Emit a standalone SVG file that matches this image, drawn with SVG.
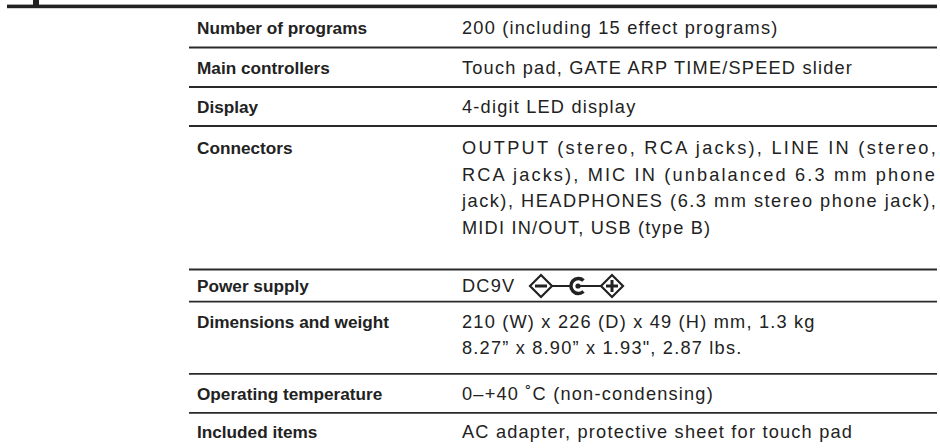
<svg xmlns="http://www.w3.org/2000/svg" width="940" height="448" viewBox="0 0 940 448">
<style>
.lbl{font-family:"Liberation Sans",Arial,sans-serif;font-weight:bold;font-size:17.2px;fill:#222}
.val{font-family:"Liberation Sans",Arial,sans-serif;font-size:18.2px;letter-spacing:1.2px;fill:#222}
.rule{stroke:#2a2a2a;stroke-width:1.8}
.sym{fill:none;stroke:#222;stroke-width:2.2}
</style>
<rect width="940" height="448" fill="#fff"/>
<g id="header">
<rect x="33" y="0" width="6" height="5" fill="#222"/>
<rect x="7" y="4.6" width="930" height="3.6" fill="#222"/>
</g>
<g id="rules">
<line class="rule" x1="189" y1="47.5" x2="937" y2="47.5"/>
<line class="rule" x1="189" y1="87" x2="937" y2="87"/>
<line class="rule" x1="189" y1="126" x2="937" y2="126"/>
<line class="rule" x1="189" y1="269.5" x2="937" y2="269.5"/>
<line class="rule" x1="189" y1="301.7" x2="937" y2="301.7"/>
<line class="rule" x1="189" y1="373.8" x2="937" y2="373.8"/>
<line class="rule" x1="189" y1="412.8" x2="937" y2="412.8"/>
</g>
<g id="row-programs">
<text class="lbl" x="197" y="34">Number of programs</text>
<text class="val" x="462" y="34">200 (including 15 effect programs)</text>
</g>
<g id="row-controllers">
<text class="lbl" x="197" y="73.5">Main controllers</text>
<text class="val" x="462" y="73.5">Touch pad, GATE ARP TIME/SPEED slider</text>
</g>
<g id="row-display">
<text class="lbl" x="197" y="112.5">Display</text>
<text class="val" x="462" y="112.5">4-digit LED display</text>
</g>
<g id="row-connectors">
<text class="lbl" x="197" y="154">Connectors</text>
<text class="val" x="462" y="154" textLength="475" lengthAdjust="spacing">OUTPUT (stereo, RCA jacks), LINE IN (stereo,</text>
<text class="val" x="462" y="180.5" textLength="474" lengthAdjust="spacing">RCA jacks), MIC IN (unbalanced 6.3 mm phone</text>
<text class="val" x="462" y="207" textLength="475" lengthAdjust="spacing">jack), HEADPHONES (6.3 mm stereo phone jack),</text>
<text class="val" x="462" y="233.5">MIDI IN/OUT, USB (type B)</text>
</g>
<g id="row-power">
<text class="lbl" x="197" y="291.5">Power supply</text>
<text class="val" x="462" y="291.5">DC9V</text>
<g id="polarity">
<polygon class="sym" points="530,286 541,275 552,286 541,297"/>
<line x1="535" y1="286" x2="547" y2="286" stroke="#222" stroke-width="3"/>
<line x1="552" y1="286" x2="570" y2="286" stroke="#222" stroke-width="2"/>
<path d="M583.5,280.5 A7.5,7.5 0 1 0 583.5,291.5" fill="none" stroke="#222" stroke-width="3.5"/>
<circle cx="578" cy="286" r="2.6" fill="#222"/>
<line x1="578" y1="286" x2="601" y2="286" stroke="#222" stroke-width="2"/>
<polygon class="sym" points="601,286 612,275 623,286 612,297"/>
<line x1="606" y1="286" x2="618" y2="286" stroke="#222" stroke-width="3"/>
<line x1="612" y1="280" x2="612" y2="292" stroke="#222" stroke-width="3"/>
</g>
</g>
<g id="row-dimensions">
<text class="lbl" x="197" y="327.5">Dimensions and weight</text>
<text class="val" x="462" y="327.5">210 (W) x 226 (D) x 49 (H) mm, 1.3 kg</text>
<text class="val" x="462" y="354">8.27” x 8.90” x 1.93", 2.87 lbs.</text>
</g>
<g id="row-temperature">
<text class="lbl" x="197" y="399.5">Operating temperature</text>
<text class="val" x="462" y="399.5">0–+40 ˚C (non-condensing)</text>
</g>
<g id="row-items">
<text class="lbl" x="197" y="438">Included items</text>
<text class="val" x="462" y="438">AC adapter, protective sheet for touch pad</text>
</g>
</svg>
